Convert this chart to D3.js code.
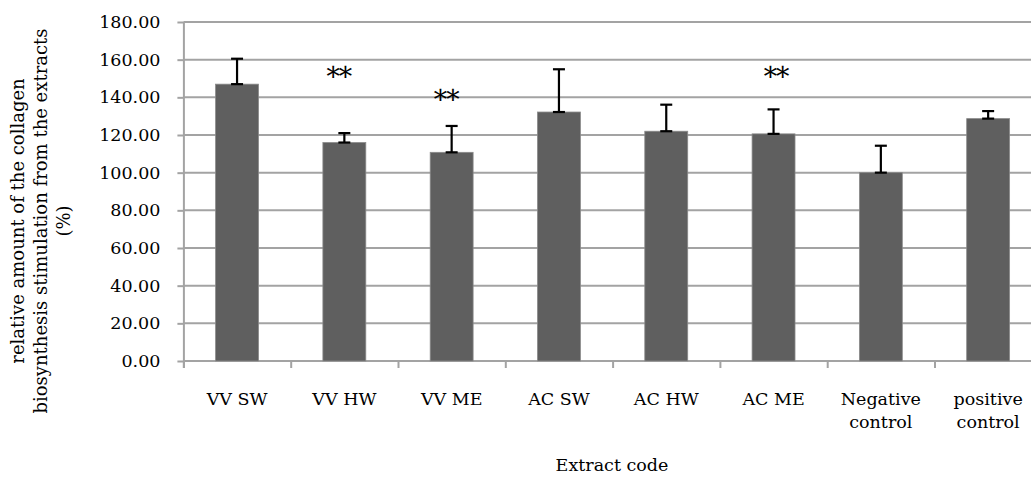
<!DOCTYPE html>
<html>
<head>
<meta charset="utf-8">
<script src="https://cdn.jsdelivr.net/npm/d3@7"></script>
<style>
  html, body { margin: 0; padding: 0; background: #fff; }
  svg { display: block; }
  text { font-family: "DejaVu Serif", serif; fill: #000; }
</style>
</head>
<body>
<svg id="chart" width="1031" height="477"></svg>
<script>
// ---- data ----
const categories = ["VV SW", "VV HW", "VV ME", "AC SW", "AC HW", "AC ME", "Negative control", "positive control"];
const values     = [147.0, 116.0, 110.8, 132.2, 122.0, 120.6, 100.0, 128.7];
const errors     = [13.5, 5.0, 14.0, 22.7, 14.1, 13.0, 14.3, 4.0];
const yTicks     = [0, 20, 40, 60, 80, 100, 120, 140, 160, 180];
// significance marks: category and vertical position (data units)
const sigCategories = ["VV HW", "VV ME", "AC ME"];
const sigLevels     = [154.0, 141.8, 154.0];
const sigLabels     = ["\u2217\u2217", "\u2217\u2217", "\u2217\u2217"];
const yTitleLines = ["relative amount of the collagen", "biosynthesis stimulation from the extracts", "(%)"];
const xTitle = "Extract code";

// ---- layout ----
const svg = d3.select("#chart");
const plotLeft = 183.4, plotRight = 1041.8, plotTop = 22, plotBottom = 361;
const gridColor = "#a3a3a3";
const fs = 17.5;

const y = d3.scaleLinear().domain([0, 180]).range([plotBottom, plotTop]);
const x = d3.scaleBand().domain(categories).range([plotLeft, plotRight])
  .paddingInner(0.6).paddingOuter(0.3);
const xEdges = d3.scaleLinear().domain([0, categories.length]).range([plotLeft, plotRight]);

// gridlines + y axis
const yAxis = svg.append("g").attr("transform", `translate(${plotLeft},0)`)
  .call(d3.axisLeft(y).tickValues(yTicks).tickFormat(d3.format(".2f"))
    .tickSize(6).tickSizeOuter(0).tickPadding(17));
yAxis.select(".domain").attr("stroke", gridColor).attr("stroke-width", 2)
  .attr("d", `M0.5,${plotTop}V${plotBottom + 7}`);
yAxis.selectAll(".tick line").attr("stroke", gridColor).attr("stroke-width", 2);
yAxis.selectAll(".tick text").attr("font-size", fs).attr("font-family", "DejaVu Serif");

svg.append("g").selectAll("line").data(yTicks).join("line")
  .attr("x1", plotLeft).attr("x2", 1031)
  .attr("y1", d => y(d)).attr("y2", d => y(d))
  .attr("stroke", gridColor).attr("stroke-width", 2);

// x axis ticks at band boundaries
const xAxis = svg.append("g").attr("transform", `translate(0,${plotBottom})`)
  .call(d3.axisBottom(xEdges).tickValues(d3.range(categories.length + 1))
    .tickFormat("").tickSize(7).tickSizeOuter(0));
xAxis.select(".domain").remove();
xAxis.selectAll(".tick line").attr("stroke", gridColor).attr("stroke-width", 2);

// bars
svg.append("g").selectAll("rect").data(categories).join("rect")
  .attr("x", d => x(d)).attr("width", x.bandwidth())
  .attr("y", (d, i) => y(values[i]))
  .attr("height", (d, i) => y(0) - y(values[i]))
  .attr("fill", "#5f5f5f").attr("stroke", "#8a8a8a").attr("stroke-width", 0.8);

// error bars (plus direction)
const eb = svg.append("g").attr("stroke", "#000").attr("stroke-width", 2.2);
categories.forEach((c, i) => {
  const cx = x(c) + x.bandwidth() / 2;
  const y0 = y(values[i]), y1 = y(values[i] + errors[i]);
  eb.append("line").attr("x1", cx).attr("x2", cx).attr("y1", y0).attr("y2", y1);
  eb.append("line").attr("x1", cx - 6).attr("x2", cx + 6).attr("y1", y1).attr("y2", y1);
  eb.append("line").attr("x1", cx - 6).attr("x2", cx + 6).attr("y1", y0).attr("y2", y0);
});

// significance marks
svg.append("g").selectAll("text").data(sigCategories).join("text")
  .attr("x", (d, i) => x(d) + x.bandwidth() / 2 + (i < 2 ? -8 : 0))
  .attr("y", (d, i) => y(sigLevels[i]))
  .attr("dominant-baseline", "central")
  .attr("text-anchor", "middle").attr("font-size", 27)
  .attr("letter-spacing", -6)
  .attr("font-family", "DejaVu Sans")
  .text((d, i) => sigLabels[i]);

// x category labels with wrapping
const labG = svg.append("g");
categories.forEach(c => {
  const t = labG.append("text").attr("text-anchor", "middle").attr("font-size", fs)
    .attr("x", x(c) + x.bandwidth() / 2).attr("y", 405);
  const words = c.split(" ");
  let lines = [], cur = [];
  const probe = labG.append("text").attr("font-size", fs);
  words.forEach(w => {
    const test = cur.concat([w]).join(" ");
    probe.text(test);
    if (cur.length && probe.node().getComputedTextLength() > x.step() * 0.9) {
      lines.push(cur.join(" ")); cur = [w];
    } else cur.push(w);
  });
  lines.push(cur.join(" "));
  probe.remove();
  lines.forEach((l, k) => {
    t.append("tspan").attr("x", x(c) + x.bandwidth() / 2).attr("dy", k === 0 ? 0 : 23).text(l);
  });
});

// axis titles
svg.append("text").attr("x", 612).attr("y", 471).attr("text-anchor", "middle")
  .attr("font-size", fs).text(xTitle);

const yt = svg.append("text").attr("text-anchor", "middle").attr("font-size", 18)
  .attr("transform", "translate(24,221) rotate(-90)");
yTitleLines.forEach((l, k) => {
  yt.append("tspan").attr("x", 0).attr("y", k * 23).text(l);
});
</script>
</body>
</html>
